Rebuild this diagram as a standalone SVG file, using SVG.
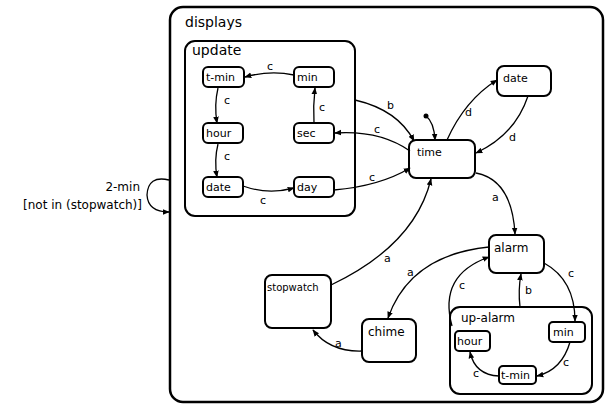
<svg xmlns="http://www.w3.org/2000/svg" width="606" height="405" viewBox="0 0 606 405">
<defs>
<marker id="ah" viewBox="0 0 10 10" refX="9" refY="5" markerWidth="7" markerHeight="7" markerUnits="userSpaceOnUse" orient="auto">
<path d="M0,1 L10,5 L0,9 z" fill="#000"/>
</marker>
</defs>
<style>
.box{fill:none;stroke:#000;stroke-width:2}
.big{fill:none;stroke:#000;stroke-width:2.5}
.t{font-family:"DejaVu Sans","Liberation Sans",sans-serif;font-size:11px;fill:#000}
.tl{font-family:"DejaVu Sans","Liberation Sans",sans-serif;font-size:14px;fill:#000}
.tm{font-family:"DejaVu Sans","Liberation Sans",sans-serif;font-size:12px;fill:#000}
.e{fill:none;stroke:#000;stroke-width:1.3;marker-end:url(#ah)}
</style>
<g id="displays">
<rect class="big" x="170" y="7" width="433" height="395" rx="13"/>
<text class="tl" x="185" y="27">displays</text>
</g>
<g id="update">
<rect class="box" x="185" y="41" width="170" height="175" rx="10"/>
<text class="tl" x="192" y="55">update</text>
</g>
<g id="u-tmin"><rect class="box" x="203" y="67" width="41" height="20" rx="5"/><text class="t" x="206" y="81">t-min</text></g>
<g id="u-min"><rect class="box" x="294" y="67" width="40" height="20" rx="5"/><text class="t" x="297" y="81">min</text></g>
<g id="u-hour"><rect class="box" x="203" y="123" width="40" height="20" rx="5"/><text class="t" x="206" y="137">hour</text></g>
<g id="u-sec"><rect class="box" x="294" y="123" width="40" height="20" rx="5"/><text class="t" x="297" y="137">sec</text></g>
<g id="u-date"><rect class="box" x="203" y="177" width="40" height="20" rx="5"/><text class="t" x="206" y="191">date</text></g>
<g id="u-day"><rect class="box" x="294" y="177" width="40" height="20" rx="5"/><text class="t" x="297" y="191">day</text></g>
<g id="time"><rect class="box" x="409" y="140" width="66" height="38" rx="7"/><text class="t" x="417" y="156">time</text></g>
<g id="date"><rect class="box" x="497" y="66" width="54" height="30" rx="7"/><text class="t" x="503" y="82">date</text></g>
<g id="alarm"><rect class="box" x="489" y="235" width="55" height="38" rx="7"/><text class="tm" x="494" y="252">alarm</text></g>
<g id="stopwatch"><rect class="box" x="265" y="275" width="66" height="53" rx="7"/><text class="t" x="267" y="291" style="font-size:10px">stopwatch</text></g>
<g id="chime"><rect class="box" x="362" y="319" width="54" height="43" rx="7"/><text class="tm" x="368" y="336">chime</text></g>
<g id="up-alarm"><rect class="box" x="450" y="307" width="142" height="87" rx="10"/><text class="tm" x="461" y="322">up-alarm</text></g>
<g id="a-min"><rect class="box" x="549" y="322" width="36" height="20" rx="4"/><text class="t" x="553" y="336">min</text></g>
<g id="a-hour"><rect class="box" x="455" y="331" width="35" height="20" rx="4"/><text class="t" x="457" y="345">hour</text></g>
<g id="a-tmin"><rect class="box" x="499" y="366" width="37" height="18" rx="4"/><text class="t" x="501" y="379">t-min</text></g>
<g id="connectors">
<path class="e" d="M294,75 Q270,70 245,77"/>
<path class="e" d="M218,88 Q214,105 217,123"/>
<path class="e" d="M218,144 Q214,160 217,177"/>
<path class="e" d="M243,186 Q268,195 294,188"/>
<path class="e" d="M314,123 Q313,106 315,88"/>
<path class="e" d="M410,151 Q380,130 335,133"/>
<path class="e" d="M355,100 Q398,110 414,141"/>
<path class="e" d="M334,190 Q380,186 410,168"/>
<circle cx="426" cy="116" r="2.5" fill="#000"/>
<path class="e" d="M426,116 Q434,122 435,140"/>
<path class="e" d="M447,140 Q465,100 497,80"/>
<path class="e" d="M528,96 Q515,135 476,153"/>
<path class="e" d="M476,173 Q512,180 515,234"/>
<path class="e" d="M331,285 Q415,245 431,179"/>
<path class="e" d="M489,247 Q410,255 388,318"/>
<path class="e" d="M362,351 Q330,352 313,330"/>
<path class="e" d="M544,263 Q575,280 575,321"/>
<path class="e" d="M570,342 Q562,370 537,376"/>
<path class="e" d="M499,376 Q475,375 470,352"/>
<path class="e" d="M520,307 Q518,290 521,274"/>
<path class="e" d="M452,326 Q438,275 489,257"/>
<path class="e" d="M169,180 Q148,175 147,195 Q148,212 169,212"/>
</g>
<g id="labels">
<text class="t" x="267" y="70">c</text>
<text class="t" x="224" y="104">c</text>
<text class="t" x="224" y="160">c</text>
<text class="t" x="260" y="204">c</text>
<text class="t" x="319" y="111">c</text>
<text class="t" x="374" y="133">c</text>
<text class="t" x="387" y="109">b</text>
<text class="t" x="369" y="181">c</text>
<text class="t" x="465" y="116">d</text>
<text class="t" x="509" y="141">d</text>
<text class="t" x="492" y="201">a</text>
<text class="t" x="384" y="262">a</text>
<text class="t" x="407" y="276">a</text>
<text class="t" x="335" y="347">a</text>
<text class="t" x="568" y="277">c</text>
<text class="t" x="563" y="366">c</text>
<text class="t" x="473" y="377">c</text>
<text class="t" x="525" y="294">b</text>
<text class="t" x="459" y="289">c</text>
<text class="tm" x="140" y="191" text-anchor="end">2-min</text>
<text class="tm" x="142" y="209" text-anchor="end">[not in (stopwatch)]</text>
</g>
</svg>
